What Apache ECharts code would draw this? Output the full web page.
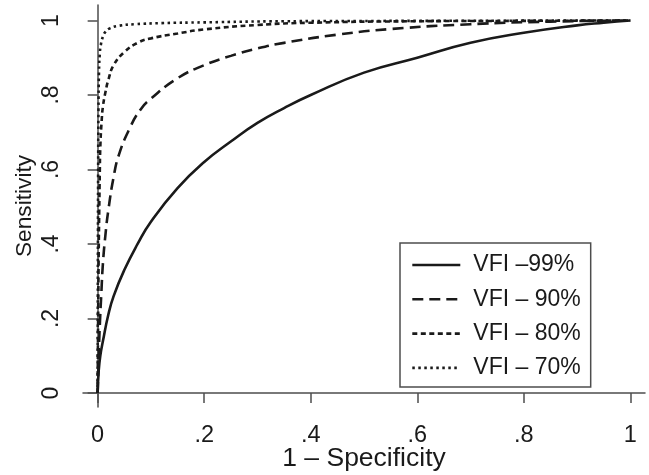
<!DOCTYPE html>
<html>
<head>
<meta charset="utf-8">
<script src="https://cdn.jsdelivr.net/npm/echarts@6/dist/echarts.min.js"></script>
<style>html,body{margin:0;padding:0;background:#fff}#c{width:649px;height:475px}</style>
</head>
<body>
<div id="c"></div>
<script>
// ---- data ----
const seriesNames = ['VFI \u201399%', 'VFI \u2013 90%', 'VFI \u2013 80%', 'VFI \u2013 70%'];
const tickValues = [0, 0.2, 0.4, 0.6, 0.8, 1];

const fpr99 = [0, 0.002, 0.005, 0.01, 0.02, 0.03, 0.05, 0.075, 0.1, 0.15, 0.2, 0.25, 0.3, 0.35, 0.4, 0.5, 0.6, 0.7, 0.8, 0.9, 0.95, 1];
const tpr99 = [0, 0.06, 0.10, 0.14, 0.21, 0.26, 0.33, 0.40, 0.46, 0.55, 0.62, 0.675, 0.725, 0.765, 0.80, 0.86, 0.90, 0.94, 0.967, 0.987, 0.994, 1];

const fpr90 = [0, 0.002, 0.004, 0.007, 0.01, 0.015, 0.02, 0.03, 0.04, 0.06, 0.08, 0.1, 0.15, 0.2, 0.25, 0.3, 0.35, 0.45, 0.55, 0.7, 0.85, 1];
const tpr90 = [0, 0.10, 0.18, 0.27, 0.35, 0.43, 0.49, 0.58, 0.64, 0.71, 0.76, 0.79, 0.845, 0.88, 0.905, 0.925, 0.94, 0.962, 0.977, 0.99, 0.997, 1];

const fpr80 = [0, 0.0005, 0.001, 0.002, 0.003, 0.004, 0.005, 0.0075, 0.01, 0.015, 0.02, 0.03, 0.05, 0.075, 0.1, 0.15, 0.2, 0.3, 0.4, 0.6, 0.8, 1];
const tpr80 = [0, 0.12, 0.22, 0.38, 0.49, 0.59, 0.66, 0.73, 0.77, 0.81, 0.84, 0.88, 0.915, 0.94, 0.952, 0.965, 0.976, 0.988, 0.994, 0.998, 0.999, 1];

const fpr70 = [0, 0.0002, 0.0005, 0.001, 0.0015, 0.0025, 0.004, 0.006, 0.01, 0.015, 0.023, 0.04, 0.07, 0.12, 0.2, 0.35, 0.6, 1];
const tpr70 = [0, 0.2, 0.40, 0.62, 0.76, 0.86, 0.91, 0.935, 0.957, 0.97, 0.979, 0.986, 0.99, 0.993, 0.995, 0.998, 0.999, 1];

// ---- chart ----
const zip = (xs, ys) => xs.map((x, i) => [x, ys[i]]);
const fmt = v => {
  const r = Math.round(v * 10) / 10;
  if (r === 0) return '0';
  if (r === 1) return '1';
  return String(r).replace(/^0/, '');
};
const FONT = 'Liberation Sans, Arial, Helvetica, sans-serif';
const INK = '#1a1a1a';
const AXIS = '#4d4d4d';

const styles = [
  { type: 'solid', width: 2.6 },
  { type: [11, 6], width: 2.6 },
  { type: [5, 3.5], width: 2.6 },
  { type: [2.5, 3.5], width: 2.6 }
];
const dataSets = [zip(fpr99, tpr99), zip(fpr90, tpr90), zip(fpr80, tpr80), zip(fpr70, tpr70)];

const chart = echarts.init(document.getElementById('c'), null, { renderer: 'canvas' });
chart.setOption({
  animation: false,
  backgroundColor: '#fff',
  textStyle: { fontFamily: FONT, color: INK },
  grid: { left: 83, right: 4, top: 5, bottom: 68, containLabel: false, outerBoundsMode: 'none' },
  xAxis: {
    type: 'value',
    min: -0.0275, max: 1.0275,
    name: '1 \u2013 Specificity',
    nameLocation: 'middle',
    nameGap: 38,
    nameMoveOverlap: false,
    nameTextStyle: { fontSize: 26.5, color: INK, fontFamily: FONT },
    axisLine: { show: true, lineStyle: { color: AXIS, width: 1.5 } },
    axisTick: { show: true, length: 10, lineStyle: { color: AXIS, width: 1.5 }, customValues: tickValues },
    axisLabel: { fontSize: 23.5, color: INK, margin: 17, fontFamily: FONT, customValues: tickValues, formatter: fmt },
    splitLine: { show: false }
  },
  yAxis: {
    type: 'value',
    min: -0.0376, max: 1.0416,
    name: 'Sensitivity',
    nameLocation: 'middle',
    nameGap: 47,
    nameMoveOverlap: false,
    nameTextStyle: { fontSize: 22.7, color: INK, fontFamily: FONT },
    axisLine: { show: true, lineStyle: { color: AXIS, width: 1.5 } },
    axisTick: { show: true, length: 10, lineStyle: { color: AXIS, width: 1.5 }, customValues: tickValues },
    axisLabel: { fontSize: 23, color: INK, margin: 20, rotate: 90, fontFamily: FONT, customValues: tickValues, formatter: fmt },
    splitLine: { show: false }
  },
  legend: {
    orient: 'vertical',
    left: 400, top: 243,
    padding: [9, 10, 6, 11],
    itemWidth: 48, itemHeight: 14,
    itemGap: 8.3,
    borderColor: AXIS, borderWidth: 1.5,
    backgroundColor: '#fff',
    itemStyle: { opacity: 0 },
    lineStyle: { width: 2.6 },
    textStyle: { fontSize: 23, color: INK, fontFamily: FONT, lineHeight: 26, padding: [0, 0, 0, 8] },
    data: seriesNames
  },
  series: dataSets.map((d, i) => ({
    name: seriesNames[i],
    type: 'line',
    data: d,
    symbol: 'none',
    smooth: 0.5,
    lineStyle: { color: INK, width: styles[i].width, type: styles[i].type, cap: 'butt' },
    itemStyle: { color: INK, opacity: 0 }
  }))
});
</script>
</body>
</html>
